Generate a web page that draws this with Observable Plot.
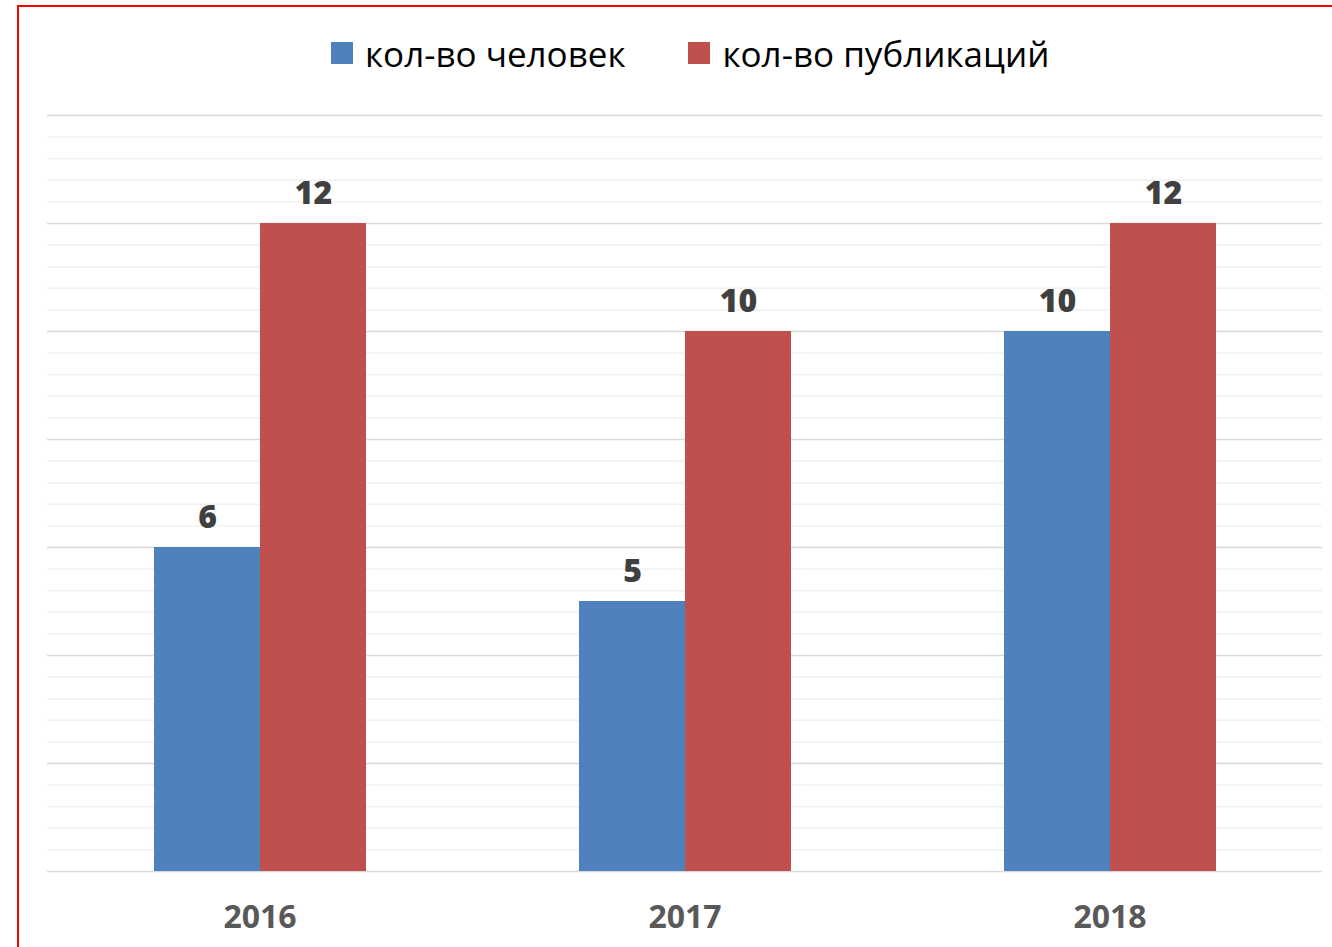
<!DOCTYPE html>
<html>
<head>
<meta charset="utf-8">
<script src="https://cdn.jsdelivr.net/npm/d3@7"></script>
<script src="https://cdn.jsdelivr.net/npm/@observablehq/plot@0.6"></script>
<style>
  html, body { margin: 0; padding: 0; background: #fff; overflow: hidden; width: 1332px; height: 947px; }
  #frame { position: absolute; left: 17px; top: 5px; width: 1400px; height: 1000px; border-left: 2px solid #ff0000; border-top: 2px solid #ff0000; box-sizing: border-box; }
  #legend { position: absolute; left: 331px; top: 33px; height: 40px; display: flex; align-items: center; font-family: "Open Sans", sans-serif; font-size: 35px; color: #000; white-space: nowrap; }
  .item { display: flex; align-items: center; }
  .sw { width: 22px; height: 22px; margin-right: 12px; }
  .item + .item { margin-left: 63px; }
  #chart { position: absolute; left: 0; top: 100px; }
</style>
</head>
<body>
<div id="frame"></div>
<div id="legend"></div>
<div id="chart"></div>
<script>
const years = ["2016", "2017", "2018"];
const seriesNames = ["кол-во человек", "кол-во публикаций"];
const people = [6, 5, 10];
const publications = [12, 10, 12];
const colors = ["#4f81bd", "#c0504d"];
const majorTicks = [0, 2, 4, 6, 8, 10, 12, 14];
const minorTicks = d3.range(0, 36).map(k => +(k * 0.4).toFixed(1)).filter(v => !majorTicks.includes(v));

const data = years.flatMap((y, i) => [
  {year: y, series: seriesNames[0], value: people[i]},
  {year: y, series: seriesNames[1], value: publications[i]}
]);

const legend = document.getElementById("legend");
seriesNames.forEach((s, i) => {
  const it = document.createElement("div");
  it.className = "item";
  it.innerHTML = `<div class="sw" style="background:${colors[i]}"></div><span>${s}</span>`;
  legend.appendChild(it);
});

const chart = Plot.plot({
  width: 1332,
  height: 847,
  marginTop: 15,
  marginBottom: 76,
  marginLeft: 47,
  marginRight: 10,
  fx: {domain: years, padding: 0, axis: null, label: null},
  x: {domain: seriesNames, paddingInner: 0, paddingOuter: 1, axis: null},
  y: {domain: [0, 14], axis: null},
  color: {domain: seriesNames, range: colors},
  style: {fontFamily: "'Open Sans', sans-serif", background: "transparent"},
  marks: [
    Plot.gridY(minorTicks, {stroke: "#f0f0f0", strokeOpacity: 1, strokeWidth: 1.5}),
    Plot.gridY(majorTicks, {stroke: "#d9d9d9", strokeOpacity: 1, strokeWidth: 1.5}),
    Plot.barY(data, {fx: "year", x: "series", y: "value", fill: "series"}),
    Plot.text(data, {fx: "year", x: "series", y: "value", text: d => String(d.value), lineAnchor: "bottom", dy: -20, fontSize: 32, fontWeight: 800, fill: "#404040"}),
    Plot.text(years, {fx: d => d, text: d => d, frameAnchor: "bottom", lineAnchor: "middle", dy: 46, fontSize: 32, fontWeight: 700, fill: "#595959"})
  ]
});
document.getElementById("chart").appendChild(chart);
</script>
</body>
</html>
